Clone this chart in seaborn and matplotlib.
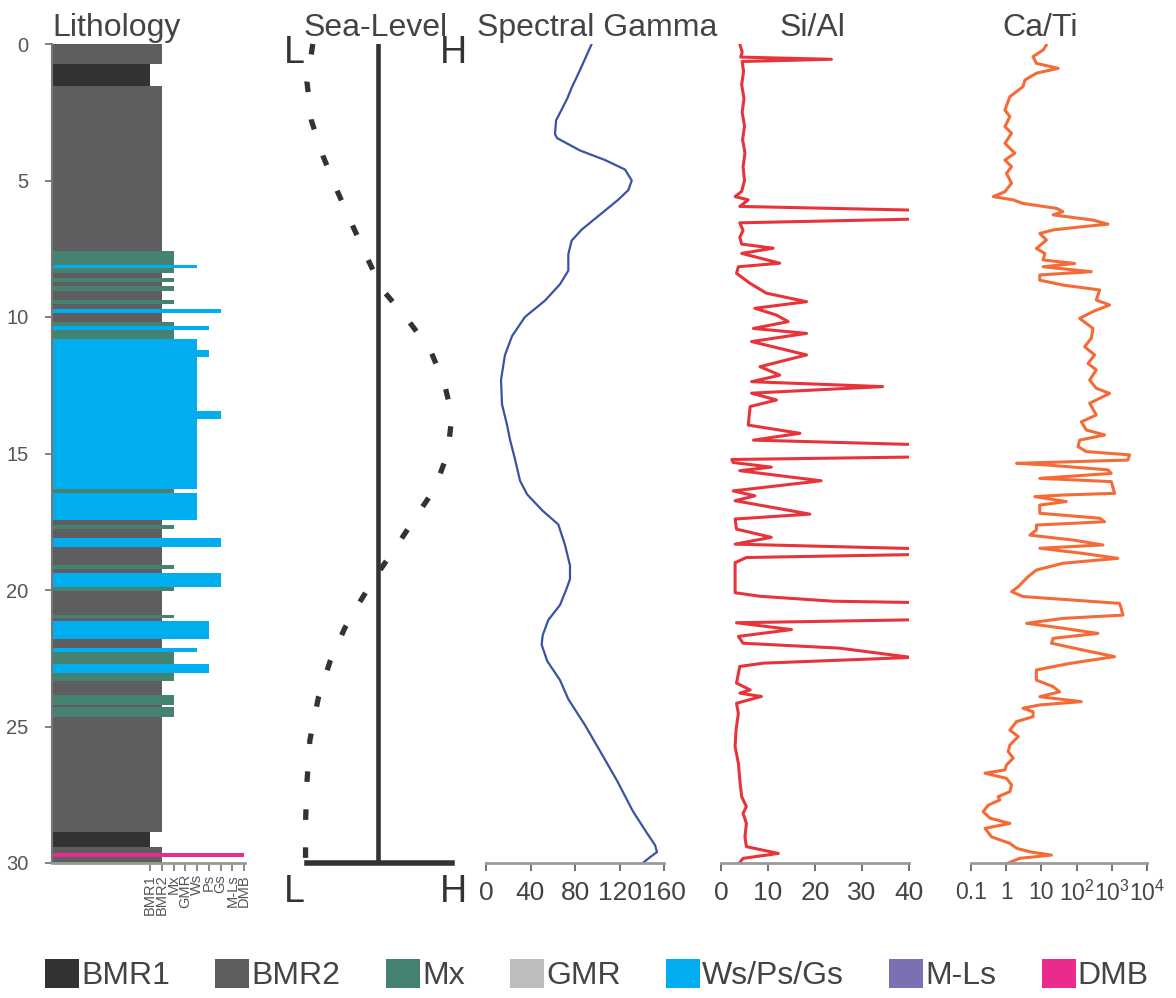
import matplotlib
matplotlib.use("Agg")
import matplotlib.pyplot as plt
import seaborn as sns
from matplotlib.patches import Patch
from matplotlib.ticker import FixedLocator, FixedFormatter, NullLocator

# ---------------- data ----------------
lith_classes = ["BMR1", "BMR2", "Mx", "GMR", "Ws", "Ps", "Gs", "M-Ls", "DMB"]

lith_top = [0.00, 0.75, 1.55, 7.60, 8.08, 8.22, 8.40, 8.57, 8.73, 8.88, 9.04, 9.37, 9.52,
            9.70, 9.85, 10.17, 10.33, 10.47, 10.80, 11.20, 11.45, 13.45, 13.75, 16.30,
            16.43, 17.45, 17.62, 17.78, 18.10, 18.43, 19.10, 19.24, 19.39, 19.88, 20.03,
            20.92, 21.04, 21.14, 21.80, 22.12, 22.28, 22.70, 23.05, 23.35, 23.85, 24.20,
            24.30, 24.65, 28.85, 29.40, 29.62, 29.78]
lith_base = [0.75, 1.55, 7.60, 8.08, 8.22, 8.40, 8.57, 8.73, 8.88, 9.04, 9.37, 9.52, 9.70,
             9.85, 10.17, 10.33, 10.47, 10.80, 11.20, 11.45, 13.45, 13.75, 16.30, 16.43,
             17.45, 17.62, 17.78, 18.10, 18.43, 19.10, 19.24, 19.39, 19.88, 20.03, 20.92,
             21.04, 21.14, 21.80, 22.12, 22.28, 22.70, 23.05, 23.35, 23.85, 24.20, 24.30,
             24.65, 28.85, 29.40, 29.62, 29.78, 30.00]
lith_type = ["BMR2", "BMR1", "BMR2", "Mx", "Ws", "Mx", "BMR2", "Mx", "BMR2", "Mx", "BMR2", "Mx",
             "BMR2", "Gs", "BMR2", "Mx", "Ps", "Mx", "Ws", "Ps", "Ws", "Gs", "Ws", "Mx", "Ws",
             "BMR2", "Mx", "BMR2", "Gs", "BMR2", "Mx", "BMR2", "Gs", "Mx", "BMR2", "Mx", "BMR2",
             "Ps", "BMR2", "Ws", "Mx", "Ps", "Mx", "BMR2", "Mx", "BMR2", "Mx", "BMR2", "BMR1",
             "BMR2", "DMB", "BMR2"]

legend_labels = ["BMR1", "BMR2", "Mx", "GMR", "Ws/Ps/Gs", "M-Ls", "DMB"]
legend_colors = ["#333132", "#5e5e60", "#468271", "#bdbec0", "#00aeef", "#7b71b2", "#ea2a8d"]

sl_depth = [0.0, 1.4, 2.8, 4.1, 5.4, 6.6, 8.0, 9.0, 10.0, 11.2, 12.5, 13.6, 15.0, 16.3,
            17.4, 18.3, 19.3, 20.3, 21.4, 22.6, 23.9, 25.5, 27.0, 28.5, 30.0]
sl_value = [0.04, 0.0, 0.03, 0.11, 0.21, 0.31, 0.43, 0.52, 0.68, 0.85, 0.95, 1.0, 0.97, 0.88,
            0.74, 0.63, 0.50, 0.38, 0.26, 0.16, 0.08, 0.02, 0.0, -0.01, -0.01]
sl_reference = 0.49
sl_ticks = ["L", "H"]

gamma_depth = [0, 1.0, 1.6, 2.0, 2.8, 3.3, 3.45, 3.9, 4.25, 4.6, 5.0, 5.35, 5.7, 6.25, 6.8,
               7.2, 7.7, 8.3, 8.8, 9.4, 10.0, 10.7, 11.4, 12.3, 13.2, 13.95, 14.5, 15.2, 16.0,
               16.5, 17.1, 17.6, 18.35, 19.1, 19.6, 20.0, 20.55, 21.1, 21.65, 22.0, 22.6, 23.3,
               24.0, 24.95, 25.9, 27.0, 28.1, 28.8, 29.35, 29.6, 29.8, 30.0]
gamma_value = [95, 84, 77, 73, 63, 62, 64, 84.5, 107, 125, 131, 128, 119, 102.5, 86, 77, 74,
               74, 66.5, 53, 35, 23.4, 17, 13.5, 14.4, 18.9, 21.6, 26, 30.6, 37, 51, 65, 71,
               75.5, 75.5, 72, 66.5, 56, 51, 50, 55, 66.5, 74, 89, 102.5, 118, 132, 143, 152,
               153.7, 147, 141]
gamma_ticks = [0, 40, 80, 120, 160]

sial_depth = [0.0, 0.3, 0.48, 0.56, 0.64, 1.0, 1.5, 2.0, 2.5, 3.0, 3.5, 4.0, 4.5, 5.0, 5.4,
              5.59, 5.71, 5.95, 6.1, 6.4, 6.55, 6.83, 7.08, 7.33, 7.48, 7.67, 8.03, 8.16, 8.4,
              8.77, 9.13, 9.44, 9.68, 9.93, 10.17, 10.42, 10.6, 10.9, 11.39, 11.82, 12.13,
              12.37, 12.55, 12.79, 13.04, 13.28, 13.96, 14.26, 14.51, 14.69, 15.12, 15.22,
              15.33, 15.5, 15.63, 16.0, 16.37, 16.55, 16.73, 17.22, 17.4, 17.77, 18.07, 18.32,
              18.5, 18.69, 18.81, 19.0, 19.5, 20.1, 20.23, 20.41, 20.47, 21.08, 21.2, 21.45,
              21.7, 21.95, 22.13, 22.47, 22.68, 22.8, 23.41, 23.66, 23.78, 23.9, 24.15, 24.52,
              25.13, 25.74, 26.35, 26.96, 27.57, 27.93, 28.18, 28.55, 29.04, 29.4, 29.65,
              29.83, 30.0]
sial_value = [4.0, 4.5, 4.2, 23.5, 4.5, 4.8, 4.4, 4.9, 4.5, 5.0, 4.6, 5.1, 4.7, 5.0, 4.4,
              3.0, 5.8, 4.0, 45, 45, 4.0, 4.7, 4.0, 4.4, 11.1, 4.4, 12.5, 3.7, 3.3,
              6.2, 9.7, 18.2, 7.2, 11.8, 14.3, 6.9, 18.2, 6.5, 18.2, 8.3, 12.5,
              6.5, 34.4, 6.5, 11.8, 6.2, 5.8, 16.8, 6.9, 45, 45, 2.3,
              2.6, 10.7, 4.0, 21.3, 2.6, 7.2, 3.0, 18.9, 3.0, 3.3, 10.7, 3.0,
              45, 45, 5.4, 3.0, 3.0, 3.0, 8.3, 23.8, 45, 45, 3.3, 15.0,
              3.7, 4.7, 25.2, 40.5, 9.0, 4.0, 3.3, 6.2, 4.0, 8.6, 3.3, 3.7,
              3.2, 3.0, 3.7, 4.0, 4.4, 5.4, 4.7, 5.4, 5.1, 5.4, 12.2,
              4.7, 3.9]
sial_ticks = [0, 10, 20, 30, 40]

cati_depth = [0.04, 0.22, 0.46, 0.71, 0.89, 1.07, 1.32, 1.56, 1.93, 2.42, 2.66, 3.03, 3.27,
              3.64, 4.0, 4.25, 4.49, 4.74, 5.1, 5.41, 5.59, 5.71, 5.84, 6.02, 6.14, 6.26, 6.45,
              6.6, 6.69, 6.81, 6.94, 7.18, 7.49, 7.67, 7.91, 8.04, 8.16, 8.34, 8.46, 8.65, 8.83,
              9.01, 9.38, 9.56, 9.8, 10.05, 10.42, 10.78, 11.09, 11.39, 11.7, 11.94, 12.31,
              12.61, 12.8, 13.16, 13.59, 13.84, 14.14, 14.32, 14.51, 14.75, 14.93, 15.05,
              15.24, 15.36, 15.42, 15.6, 15.73, 15.91, 16.03, 16.46, 16.52, 16.58, 16.76,
              16.89, 17.19, 17.37, 17.5, 17.62, 17.8, 17.99, 18.17, 18.35, 18.47, 18.66,
              18.84, 19.02, 19.27, 19.51, 19.88, 20.06, 20.24, 20.37, 20.49, 20.67, 20.92,
              21.04, 21.22, 21.4, 21.59, 21.77, 21.95, 22.2, 22.44, 22.69, 22.93, 23.3, 23.54,
              23.73, 23.91, 24.09, 24.21, 24.33, 24.46, 24.64, 24.82, 25.13, 25.37, 25.68,
              25.92, 26.16, 26.41, 26.59, 26.71, 26.9, 27.14, 27.39, 27.57, 27.69, 27.88,
              28.12, 28.36, 28.55, 28.73, 29.04, 29.28, 29.46, 29.59, 29.71, 29.83, 30.0]
cati_value = [13.9, 11.2, 5.8, 7.2, 30, 7.2, 3.4, 3.0, 1.27, 0.92, 1.27, 0.92, 1.42,
              0.92, 1.76, 0.92, 1.42, 1.02, 1.42, 0.92, 0.43, 1.58, 3.0, 26.7, 41, 21.5, 292,
              776, 152, 21.5, 9.0, 13.9, 7.2, 12.5, 11.2, 88, 11.2, 262, 9.0, 9.0, 41,
              451, 363, 866, 292, 122, 292, 262, 169, 326, 211, 363, 235,
              363, 866, 235, 363, 136, 189, 625, 122, 110, 189, 3190,
              2860, 1.97, 13.9, 776, 966, 9.0, 966, 1200, 41, 6.5, 51,
              9.0, 9.0, 451, 625, 7.2, 7.2, 4.7, 79, 561, 9.0, 152,
              1490, 41, 7.2, 4.2, 2.2, 1.42, 3.0, 79, 1660, 1850, 2070,
              41, 3.8, 41, 405, 21.5, 19.3, 152, 1200, 64, 7.2, 7.2, 21.5,
              33, 9.0, 136, 9.0, 3.0, 5.8, 5.8, 1.97, 1.27, 2.2, 1.27,
              1.14, 1.58, 1.02, 0.92, 0.25, 1.02, 1.42, 1.27, 0.59, 0.66, 0.31,
              0.22, 0.35, 1.27, 0.25, 0.38, 1.27, 1.97, 4.7, 19.3, 2.4, 1.14]
cati_ticks = [0.1, 1, 10, 100, 1000, 10000]
cati_ticklabels = ["0.1", "1", "10", "$10^2$", "$10^3$", "$10^4$"]

depth_ticks = [0, 5, 10, 15, 20, 25, 30]
panel_titles = ["Lithology", "Sea-Level", "Spectral Gamma", "Si/Al", "Ca/Ti"]

# ---------------- style ----------------
sns.set_theme(style="white")
plt.rcParams["font.family"] = ["Liberation Sans", "DejaVu Sans"]
plt.rcParams["mathtext.fontset"] = "custom"
plt.rcParams["mathtext.rm"] = "Liberation Sans"
plt.rcParams["mathtext.it"] = "Liberation Sans:italic"
plt.rcParams["mathtext.bf"] = "Liberation Sans:bold"

W, H = 1176, 998
Y0, Y1 = 44, 863
fig = plt.figure(figsize=(W / 100, H / 100), dpi=100)


def rect(x0, x1):
    return [x0 / W, 1 - Y1 / H, (x1 - x0) / W, (Y1 - Y0) / H]


ax_l = fig.add_axes(rect(52, 245))
ax_s = fig.add_axes(rect(307, 452))
ax_g = fig.add_axes(rect(486, 664))
ax_si = fig.add_axes(rect(721, 909))
ax_ca = fig.add_axes(rect(971, 1147))

for ax in (ax_l, ax_s, ax_g, ax_si, ax_ca):
    ax.set_facecolor("none")
    ax.set_ylim(30, 0)
    for sp in ("top", "right"):
        ax.spines[sp].set_visible(False)

# ---------------- lithology ----------------
class_color = {"BMR1": legend_colors[0], "BMR2": legend_colors[1], "Mx": legend_colors[2],
               "GMR": legend_colors[3], "Ws": legend_colors[4], "Ps": legend_colors[4],
               "Gs": legend_colors[4], "M-Ls": legend_colors[5], "DMB": legend_colors[6]}
xmin_l, xmax_l = -7.34, 9.08
ax_l.set_xlim(xmin_l, xmax_l)
for t, b, k in zip(lith_top, lith_base, lith_type):
    rank = lith_classes.index(k) + 1
    ax_l.barh((t + b) / 2, rank - xmin_l, left=xmin_l, height=b - t,
              color=class_color[k], edgecolor="none", zorder=2)
ax_l.set_xticks(range(1, len(lith_classes) + 1))
ax_l.set_xticklabels(lith_classes, rotation=90, fontsize=10.5, color="#555555")
ax_l.set_yticks(depth_ticks)
ax_l.set_yticklabels([str(d) for d in depth_ticks])
ax_l.tick_params(axis="y", left=True, direction="out", length=5, width=1.3, color="#777777",
                 labelsize=14.5, labelcolor="#555555", pad=12)
ax_l.tick_params(axis="x", bottom=True, direction="out", length=6, width=1.2, color="#777777",
                 pad=2)
ax_l.spines["left"].set_color("#777777")
ax_l.spines["left"].set_linewidth(1.5)
ax_l.spines["bottom"].set_color("#999999")
ax_l.spines["bottom"].set_linewidth(2)

# ---------------- sea level ----------------
ax_s.set_xlim(0, 1)
ax_s.set_xticks([])
ax_s.set_yticks([])
ax_s.spines["left"].set_visible(False)
ax_s.spines["bottom"].set_color("#333333")
ax_s.spines["bottom"].set_linewidth(4)
ax_s.axvline(sl_reference, color="#333333", lw=3.3, zorder=2)
sns.lineplot(x=sl_value, y=sl_depth, orient="y", sort=False, estimator=None, ax=ax_s,
             color="#333333", linewidth=3.8, linestyle=(0, (2, 5.2)), clip_on=False)
for ypx in (63, 902):
    fig.text(284 / W, 1 - ypx / H, sl_ticks[0], fontsize=27, color="#333333",
             ha="left", va="baseline")
    fig.text(440 / W, 1 - ypx / H, sl_ticks[1], fontsize=27, color="#333333",
             ha="left", va="baseline")

# ---------------- curves ----------------
def style_curve_axis(ax, labelsize=19):
    ax.spines["left"].set_visible(False)
    ax.set_yticks([])
    ax.spines["bottom"].set_color("#9a9a9a")
    ax.spines["bottom"].set_linewidth(2)
    ax.tick_params(axis="x", bottom=True, direction="out", length=6, width=1.3,
                   color="#666666", labelsize=labelsize, labelcolor="#444444", pad=7)
    ax.set_xlabel("")
    ax.set_ylabel("")


sns.lineplot(x=gamma_value, y=gamma_depth, orient="y", sort=False, estimator=None, ax=ax_g,
             color="#3953a4", linewidth=1.6)
ax_g.set_xlim(0, 160)
ax_g.set_xticks(gamma_ticks)
style_curve_axis(ax_g)

sns.lineplot(x=sial_value, y=sial_depth, orient="y", sort=False, estimator=None, ax=ax_si,
             color="#e8333b", linewidth=2.2)
ax_si.set_xlim(0, 40)
ax_si.set_xticks(sial_ticks)
style_curve_axis(ax_si)

ax_ca.set_xscale("log")
sns.lineplot(x=cati_value, y=cati_depth, orient="y", sort=False, estimator=None, ax=ax_ca,
             color="#f36c37", linewidth=2.2)
ax_ca.set_xlim(0.1, 10000)
ax_ca.xaxis.set_major_locator(FixedLocator(cati_ticks))
ax_ca.xaxis.set_major_formatter(FixedFormatter(cati_ticklabels))
ax_ca.xaxis.set_minor_locator(NullLocator())
style_curve_axis(ax_ca, labelsize=16.5)

for ax in (ax_g, ax_si, ax_ca, ax_s):
    ax.set_ylim(30, 0)

# ---------------- titles ----------------
title_x = [117, 376, 597, 812, 1040]
for tx, tt in zip(title_x, panel_titles):
    fig.text(tx / W, 1 - 36 / H, tt, fontsize=23, color="#444444", ha="center", va="baseline")

# ---------------- legend ----------------
handles = [Patch(facecolor=c, edgecolor="none") for c in legend_colors]
fig.legend(handles, legend_labels, loc="center left", bbox_to_anchor=(45 / W, 1 - 975 / H),
           ncol=len(legend_labels), frameon=False, fontsize=23, handlelength=1.06,
           handleheight=1.06, handletextpad=0.07, columnspacing=1.42, borderpad=0,
           borderaxespad=0, labelcolor="#444444")

fig.savefig("out.png", dpi=100)
